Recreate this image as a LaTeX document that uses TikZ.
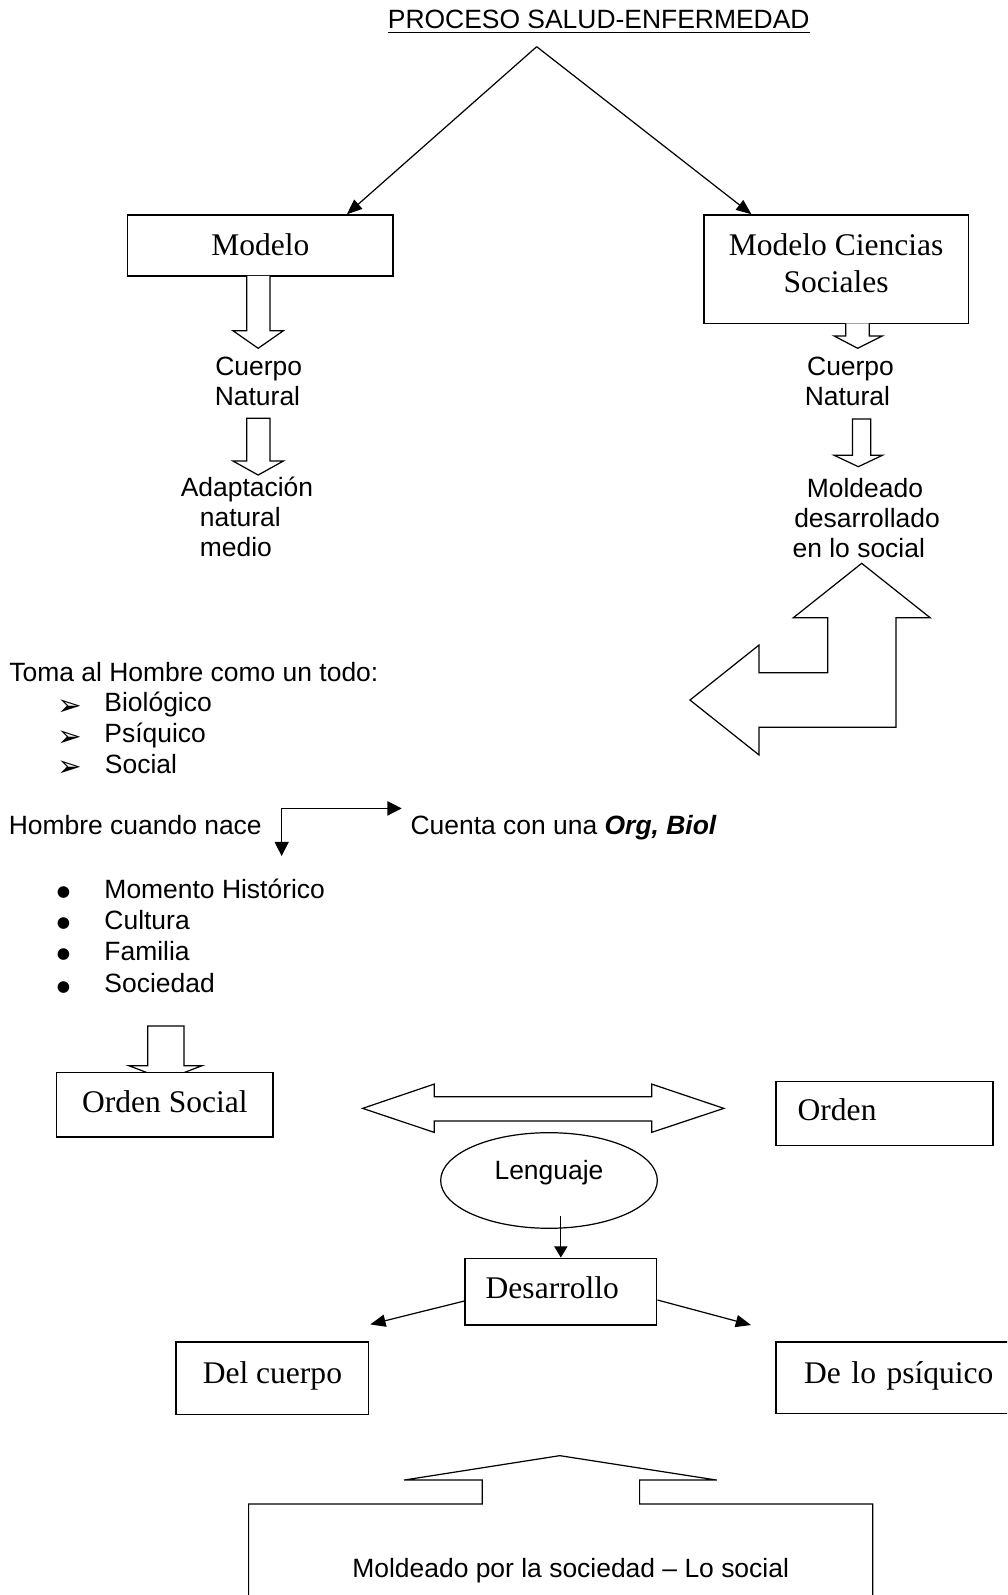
\documentclass[tikz,border=0pt]{standalone}
\usepackage{fontspec}
\setmainfont{Liberation Serif}
\setsansfont{Liberation Sans}
\newfontfamily\dejavu{DejaVu Sans}
\usetikzlibrary{arrows.meta,shapes.geometric}
\begin{document}
\begin{tikzpicture}[x=1pt,y=-1pt,
  every node/.style={inner sep=0pt},
  sanstxt/.style={font=\sffamily\fontsize{26}{30}\selectfont, anchor=base west},
  sanstxtc/.style={font=\sffamily\fontsize{26}{30}\selectfont, anchor=base},
  seriftxt/.style={font=\rmfamily\fontsize{31}{37}\selectfont},
  boxnode/.style={draw, line width=1.5pt, fill=white, seriftxt},
  blockarrow/.style={draw, line width=1.2pt, fill=white, line join=miter},
  arr/.style={line width=1.2pt, -{Triangle[length=15pt,width=12pt]}},
  bulletmark/.style={font=\dejavu\fontsize{15}{15}\selectfont, anchor=base},
  arrowmark/.style={font=\dejavu\fontsize{29}{29}\selectfont, anchor=base west},
]
\useasboundingbox (0,0) rectangle (990,1568);
\clip (0,0) rectangle (990,1568);

% title
\node[sanstxtc] (title) at (588.6,27.9) {PROCESO SALUD-ENFERMEDAD};
\draw[line width=1.2pt] ([yshift=-3.9pt]title.base west) -- ([yshift=-3.9pt]title.base east);

% top boxes
\node[boxnode, minimum width=261pt, minimum height=59.9pt, text height=18.7pt, text depth=0pt] (modelo) at (256,241.35) {Modelo};
\node[boxnode, minimum width=260.3pt, minimum height=106.5pt] (mcs) at (822.15,264.65) {};
\node[seriftxt, anchor=base] (mcsa) at (822,250.7) {Modelo Ciencias};
\node[seriftxt, anchor=base] (mcsb) at (822,287.7) {Sociales};

\coordinate (apex) at (527.6,45.9);
\draw[arr] (apex) -- ([xshift=85pt]modelo.north);
\draw[arr] (apex) -- ([xshift=-83.4pt]mcs.north);

% left column block arrows
\draw[blockarrow] (242.5,271.3) -- (242.5,325.1) -- (229,325.1) -- (253.8,342.4) -- (278.6,325.1) -- (265.4,325.1) -- (265.4,271.3);
\node[sanstxt] (cl1) at (211.5,368.7) {Cuerpo};
\node[sanstxt] (cl2) at (211,399.1) {Natural};
\draw[blockarrow] (242.5,411.2) -- (242.5,453.2) -- (229,453.2) -- (253.8,467) -- (278.6,453.2) -- (265.4,453.2) -- (265.4,411.2) -- cycle;
\node[sanstxt] (al1) at (177.5,488) {Adaptación};
\node[sanstxt] (al2) at (196.3,518) {natural};
\node[sanstxt] (al3) at (196.3,547.5) {medio};

% right column block arrows
\draw[blockarrow] (831.4,317.9) -- (831.4,330.3) -- (820,330.3) -- (843.2,342.4) -- (867.4,330.3) -- (854.6,330.3) -- (854.6,317.9);
\node[sanstxt] (cr1) at (793.3,368.7) {Cuerpo};
\node[sanstxt] (cr2) at (791,399.1) {Natural};
\draw[blockarrow] (838,411.9) -- (838,447.6) -- (820,447.6) -- (843.8,458.8) -- (867.4,447.6) -- (856,447.6) -- (856,411.9) -- cycle;
\node[sanstxt] (mr1) at (793,489) {Moldeado};
\node[sanstxt] (mr2) at (780.6,518.8) {desarrollado};
\node[sanstxt] (mr3) at (779,548) {en lo social};

% bent arrow
\draw[blockarrow] (847.1,553.8) -- (914.3,607.2) -- (880.9,607.2) -- (880.9,715) -- (746.2,715) -- (746.2,742.2) -- (678.3,688.2) -- (746.2,634.1) -- (746.2,661.3) -- (813.7,661.3) -- (813.7,607.2) -- (780,607.2) -- cycle;

% list 1
\node[sanstxt] (toma) at (9,670.2) {Toma al Hombre como un todo:};
\node[arrowmark] (a1) at (56,702.9) {➢};
\node[arrowmark] (a2) at (56,733.4) {➢};
\node[arrowmark] (a3) at (56,763.6) {➢};
\node[sanstxt] (bio) at (102.5,699.6) {Biológico};
\node[sanstxt] (psi) at (102.5,730.1) {Psíquico};
\node[sanstxt] (soc) at (103,760.3) {Social};

% hombre cuando nace
\node[sanstxt] (hombre) at (8.5,820.5) {Hombre cuando nace};
\node[sanstxt] (cuenta) at (403.4,820.5) {Cuenta con una {\bfseries\itshape Org, Biol}};
\coordinate (elb) at (276.9,794.7);
\coordinate (elbdown) at (276.9,841.5);
\coordinate (elbright) at (394.9,794.7);
\draw[line width=1.2pt, {Triangle[length=14pt,width=14pt]}-{Triangle[length=14pt,width=14pt]}, line join=miter] (elbdown) -- (elb) -- (elbright);

% list 2
\node[bulletmark] (p1) at (62.5,881.6) {●};
\node[bulletmark] (p2) at (62.5,912.1) {●};
\node[bulletmark] (p3) at (62.5,942.3) {●};
\node[bulletmark] (p4) at (62.5,974.4) {●};
\node[sanstxt] (mom) at (102.5,883.1) {Momento Histórico};
\node[sanstxt] (cul) at (102.5,913.6) {Cultura};
\node[sanstxt] (fam) at (102.5,943.8) {Familia};
\node[sanstxt] (sde) at (102.5,975.9) {Sociedad};

% orden social
\draw[blockarrow] (145.2,1008.7) -- (145.2,1047.7) -- (126.8,1047.7) -- (162.7,1061.4) -- (198.5,1047.7) -- (180.8,1047.7) -- (180.8,1008.7) -- cycle;
\node[boxnode, minimum width=213pt, minimum height=63pt, text height=15.8pt, text depth=0pt] (osoc) at (162.1,1086) {Orden Social};
\node[boxnode, minimum width=213pt, minimum height=62.9pt, text height=14.3pt, text depth=0pt, text width=170.6pt, align=left] (orden) at (869.5,1094.85) {Orden};

% double arrow
\draw[blockarrow] (356.5,1089.6) -- (426.9,1065.7) -- (426.9,1078.1) -- (640.6,1078.1) -- (640.6,1065.7) -- (711.6,1089.6) -- (640.6,1113.2) -- (640.6,1102) -- (426.9,1102) -- (426.9,1113.2) -- cycle;

% lenguaje
\node[draw, ellipse, line width=1.2pt, minimum width=213pt, minimum height=94pt, font=\sffamily\fontsize{26}{30}\selectfont, text height=0pt, text depth=2.2pt] (leng) at (539.7,1160.5) {Lenguaje};

% desarrollo
\node[boxnode, minimum width=188.5pt, minimum height=65.6pt, text height=13.2pt, text depth=0pt, text width=147.7pt, align=left] (des) at (551.35,1269.8) {Desarrollo};
\coordinate (lengout) at (551.35,1195.5);
\draw[line width=1.2pt, -{Triangle[length=11pt,width=13pt]}] (lengout) -- (des.north);

\coordinate (dl) at (364,1302);
\coordinate (dr) at (738.3,1302.6);
\draw[arr] ([yshift=-9.2pt]des.west) -- (dl);
\draw[arr] ([yshift=-8.2pt]des.east) -- (dr);

\node[boxnode, minimum width=189.2pt, minimum height=71.1pt, text height=9.5pt, text depth=0pt] (delc) at (267.8,1354.85) {Del cuerpo};
\node[boxnode, minimum width=247pt, minimum height=70pt, text height=10.2pt, text depth=0pt, text width=191.8pt, align=left] (psiq) at (886.5,1354.5) {De lo psíquico};

% bottom shape
\draw[blockarrow] (244.4,1620) -- (244.4,1478.5) -- (474,1478.5) -- (474,1455) -- (397.2,1455) -- (550.3,1431) -- (704.6,1455) -- (628.8,1455) -- (628.8,1478.5) -- (858,1478.5) -- (858,1620);
\node[sanstxtc] (moldsoc) at (561,1551) {Moldeado por la sociedad – Lo social};
\end{tikzpicture}
\end{document}
